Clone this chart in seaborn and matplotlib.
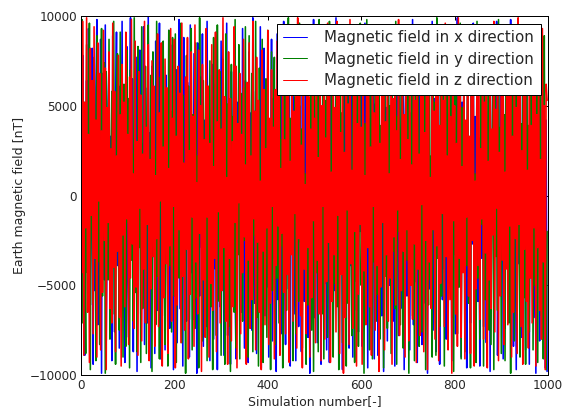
import matplotlib
matplotlib.use("Agg")
import matplotlib.pyplot as plt
from matplotlib.lines import Line2D
import numpy as np
import pandas as pd
import seaborn as sns

# Simulation sample spacing (every 2nd simulation)
step = 2

bx = [
    -9600, 3100, 7800, -4200, -8900, 1500, 6400, -2800, 9300, 4700, -6100, -1300, 8200, -9400, 2600, -5300, 5900, 9800, -7200, 400,
    -3600, 8700, -9900, 6800, 1900, -4700, 9500, -8100, -2300, 5100, 7400, -6800, 3300, -9200, 8900, -500, -7600, 4300, 9100, -3900,
    2200, -8500, 6100, -1800, 9700, -5900, 700, -9300, 5600, 8300, -4400, -7900, 3700, 9900, -2600, 6500, -8700, 1200, -5400, 7700,
    -9800, 4900, -900, 8100, -6600, 2900, -3200, 9400, -8300, 6000, 1600, -7100, 10000, -4900, 3500, -9600, 7200, -2100, 5300, -8800,
    8600, -1500, -6400, 4100, 9600, -9100, 2400, -4600, 7500, -300, -8600, 6700, 3800, -5700, 9200, -7400, 1000, -3000, 8400, -9700,
    5000, -2400, 7000, -8200, 3200, 9800, -6300, -1100, 4500, -9500, 8800, -3700, 600, -7000, 6300, 2000, -9000, 9500, -4300, 1400,
    -6900, 7900, -5000, 3000, -9900, 8500, -800, -5600, 6600, -2900, 9000, -8400, 4200, 1300, -7300, 9700, -3400, 5700, -9200, 2300,
    -1600, 7300, -8000, 6200, -4100, 9100, -9700, 3600, 800, -6200, 8600, -2000, 5500, -8900, 1700, -4800, 9600, -7800, 4000, -300,
    -9400, 6900, -3300, 2700, 8900, -5500, -9100, 5200, -1200, 7600, -7000, 3900, -6500, 9300, 100, -8500, 6400, -4000, 2100, -9300,
    8000, -2700, 4600, -7500, 9900, -1900, -6000, 5800, -8800, 3400, 700, -4500, 9400, -9600, 6000, -2200, 8200, -6700, 1100, -5100,
    7100, -9000, 3100, -700, 8700, -8100, 5400, -3500, 1800, -9800, 9000, -5800, 2800, -1400, 6800, -7700, 4400, 9700, -3800, -8300,
    2500, 6600, -5200, 9500, -9500, 900, -2500, 7800, -6600, 4800, -9200, 8300, -400, -7300, 5000, 3200, -8700, 9200, -1700, -5900,
    6300, -3100, 8900, -7900, 1500, -9900, 7200, -4300, 2200, 9800, -6800, -1000, 5300, -8200, 4000, -2800, 8000, -9400, 600, -6100,
    9300, -4900, 3500, -8600, 7000, -200, -9300, 5900, -3600, 8500, -7100, 2000, -5300, 9900, -1500, 4700, -8000, 6200, -2600, 1200,
    -9700, 8100, -4400, 6700, -6900, 2600, 9500, -8500, 300, -3900, 7400, -9000, 4100, -1300, 8800, -6400, 3000, -7600, 9100, -2000,
    5600, -8400, 1000, -5500, 9600, -3200, 6500, -9600, 4300, -700, 7900, -7400, 2300, 8400, -9100, 5100, -4600, 1600, -8900, 7700,
    -2300, 3800, -6700, 9200, -9800, 6100, -1400, 4900, -8100, 8700, -5000, 500, -3400, 9400, -7000, 2900, -9500, 7300, -1100, 5800,
    -7800, 9000, -4200, 1900, -6300, 8200, -9700, 3300, 6900, -5600, -900, 7500, -8600, 4600, -2400, 9800, -7200, 2100, -4800, 8600,
    -9300, 400, 6000, -3700, 9300, -8300, 2700, -6000, 7100, -1800, 4200, -9900, 8500, -5200, 1300, -3100, 9700, -7500, 5400, -600,
    -8700, 6800, -2100, 3600, -9400, 9100, 800, -5800, 7600, -4100, 2400, -8000, 9500, -6600, 4500, -1600, 8300, -9200, 3900, -3300,
    7400, -7700, 1700, 9900, -5100, -2900, 6600, -9000, 5200, -800, 8000, -6400, 3100, -9600, 9200, -4500, 600, -7100, 6300, -2700,
    9600, -8800, 4400, -1200, 7200, -5900, 2000, -9500, 8700, -3500, 5700, -7300, 1100, 9000, -8200, 3700, -4700, 6700, -9800, 2800,
    -500, 8400, -6200, 4100, -3000, 9700, -8900, 1500, -5500, 7800, -2200, 6400, -9100, 3400, -7400, 9400, -1900, 5000, -6900, 800,
    9800, -4000, 2600, -8400, 7300, -1500, -9700, 6100, -3800, 8900, -5300, 1900, -7900, 9300, -600, 4300, -8600, 6900, -2500, 3600,
    -9400, 8600, -4600, 1000, 7000, -6800, 5500, -9900, 4000, -1700, 9100, -8100, 2500, -5400, 7900, -3100, 6200, -9600, 4200, -9800,
]

by = [
    2000, 9800, -7100, 5200, -2600, -8800, 8400, -4300, 1100, 9600, -9700, 6300, -500, -6000, 7700, 3400, -9200, 8900, -3700, 4800,
    -8300, 1600, 9300, -5600, -1900, 7400, -9900, 6900, 2700, -4700, 8700, -8000, 300, 5800, -6600, 9700, -3100, -9400, 4600, 7900,
    -2400, -7500, 9100, -4900, 3000, -9000, 6200, 1300, -8400, 8100, -1500, 5400, -9600, 7000, -3600, 2300, -7000, 9900, -5400, 600,
    -8700, 8300, -2900, 4200, -9300, 9400, -6300, 1800, -4100, 7200, -8800, 3900, 9500, -5200, -1000, 6700, -9800, 8000, -3400, 2500,
    -7200, 9700, -4500, 600, -9100, 6600, 3700, -6700, 8600, -2100, -8300, 5000, 1400, -9500, 9200, -3900, 4700, -7600, 8800, -600,
    -5600, 9000, -9300, 2800, 7100, -4600, -1400, 9600, -8200, 5600, -3000, 1100, -9900, 7800, -2300, 6100, -6900, 3300, 9300, -8600,
    4500, -400, -7400, 8500, -5700, 2200, -9600, 9900, -1800, 3600, -8100, 6400, -4400, 900, 8200, -9200, 5300, -2700, 7500, -6200,
    1700, -9700, 8800, -3500, 4100, -7800, 9500, -600, -5900, 6900, -8900, 2600, 7600, -4200, -9400, 9000, -2000, 5100, -7300, 3200,
    -9800, 7300, -1100, 4400, -6500, 9800, -8500, 1900, -3300, 8400, -9100, 5700, 800, -7000, 6000, -2500, 9400, -5800, 2900, -9000,
    8900, -4800, 200, 6800, -8700, 3800, -2200, 9700, -6800, 4900, -9500, 7100, -1600, -5100, 8700, -9300, 3500, -600, 6500, -7900,
    9200, -3800, 1500, -9700, 8000, -5300, 2100, 7700, -8300, 400, -4600, 9500, -7100, 5900, -2800, 3100, -9600, 8500, -1300, 6300,
    -6400, 2400, 9900, -8900, 4300, -3200, 7000, -9200, 1000, 5500, -7700, 8300, -500, -5900, 9600, -2600, 3700, -8500, 6800, -4000,
    1200, -9400, 9100, -6100, 2700, -1700, 8600, -7500, 4700, -9800, 5800, 300, -4300, 7400, -8700, 9800, -3000, 2000, -6600, 8100,
    -9100, 5300, -1200, 6600, -7900, 3500, 9700, -5500, -2400, 8800, -9000, 1400, -4900, 7800, -6200, 2800, -9700, 9300, -800, 4600,
    -8200, 7600, -3300, 1600, -9500, 8500, -6000, 3100, 9000, -2100, -7800, 5900, -400, -9300, 7200, -4800, 6600, -8400, 2100, 9600,
    -5000, -1100, 8100, -9900, 4000, -6500, 9800, -2900, 5600, -8600, 1300, 7300, -9100, 3300, -3700, 8700, -7000, 600, -5500, 9100,
    -8000, 3900, -900, 6200, -9600, 7900, -4500, 2300, -7400, 9400, -1500, 5000, -8800, 8200, -3100, 1800, -6300, 9700, -9400, 4400,
    -2000, 7000, -7200, 3700, 8900, -8500, 500, -5300, 9200, -3600, 6400, -9900, 2600, -1400, 8300, -6700, 4800, -9200, 7100, -600,
    -4100, 9500, -8400, 1500, 6000, -7600, 3600, -2300, 9000, -9700, 5400, -900, -6100, 8600, -4700, 2200, -9000, 7700, -1900, 5200,
    -8900, 9900, -3500, 700, -7300, 6900, -5600, 2900, 8700, -9500, 4100, -2500, 7400, -8200, 1100, -4400, 9300, -6800, 3400, -9800,
    6500, -1000, 8400, -7700, 2500, -5100, 9600, -9100, 4900, -300, 6700, -8700, 3000, -3900, 9100, -6000, 1700, -9600, 8000, -2200,
    5700, -7000, 1200, -9300, 9700, -4600, 3200, -8000, 7200, -1600, 5100, -9500, 8500, -5800, 900, -2700, 9400, -7500, 4300, -8300,
    2100, 6100, -9700, 8200, -3400, 600, -6400, 9800, -5200, 3800, -8800, 7500, -1200, 4500, -9200, 9000, -2600, 6300, -7100, 1400,
    -9900, 8600, -4200, 5500, -8100, 2400, 7800, -6600, -1800, 9500, -9000, 4000, -3800, 7000, -5700, 1600, -9400, 9200, -700, 3900,
    -7600, 6800, -2400, 9300, -8600, 4700, -5000, 1900, 8800, -9300, 5600, -1300, 7600, -6700, 2600, -9100, 8900, -3200, -9700, -2000,
]

bz = [
    7500, -4300, 9700, -8900, 5200, -1800, 9900, -6500, 3400, -9300, 8200, -1100, 6400, -7700, 9400, -3500, 4200, -9000, 8500, -300,
    6800, -8600, 3600, -5400, 9200, -2500, 7100, -9700, 4900, -1500, 8000, -6300, 2600, -7100, 9600, -4000, 5800, -8700, 2200, -3100,
    7800, -6800, 4500, -9500, 7300, -2200, 5200, -6200, 9100, -1300, 3400, -8300, 6600, -4600, 9800, -2700, 1200, -7400, 8600, -5100,
    3000, -8900, 6900, -700, 5600, -8100, 2300, -4100, 9700, -7100, 3800, -1600, 8400, -9200, 2000, -5200, 7500, -3400, 6100, -8400,
    1100, -2400, 9000, -7300, 4600, -300, 8500, -9500, 2700, -5700, 7600, -3800, 6000, -8800, 1500, -2800, 9300, -7000, 4300, -600,
    8700, -9600, 3300, -6100, 7200, -1900, 5700, -8200, 9600, -4500, 1800, -7500, 6600, -3000, 8800, -9100, 2500, -5500, 8000, -1200,
    4400, -8400, 9500, -3700, 700, -6600, 8100, -2100, 5000, -9800, 7300, -4700, 3100, -7900, 9300, -1200, 6100, -9000, 2900, -4900,
    8400, -6400, 1600, -3500, 9100, -8700, 4100, -900, 7000, -7100, 3700, -5300, 9900, -2900, 5500, -7000, 1000, -9400, 8000, -3500,
    5400, -8100, 3000, -6200, 9400, -1500, 7200, -9600, 4000, -400, 6800, -7700, 3400, -4300, 8700, -2300, 1700, -9400, 6300, -3600,
    8500, -7400, 2200, -5800, 9700, -1300, 4700, -8600, 7700, -2600, 5300, -6500, 800, -9700, 8100, -3100, 5900, -7200, 2600, -1800,
    9200, -8300, 4300, -6000, 7000, -600, 3800, -9100, 5900, -3900, 8600, -1700, 7100, -8900, 1500, -2100, 9000, -5400, 3100, -7700,
    6500, -4400, 9400, -9300, 1900, -3300, 8300, -7000, 4700, -1000, 5600, -8500, 9900, -2400, 6200, -6700, 2800, -9600, 7800, -4100,
    600, -7700, 8800, -2900, 5500, -9000, 3700, -5700, 9200, -1400, 4300, -8200, 7100, -3600, 2100, -6600, 8500, -9200, 5000, -600,
    7600, -8000, 3200, -4800, 9600, -2600, 6000, -9300, 1300, -5900, 8000, -3300, 4900, -7600, 9700, -1100, 6700, -8800, 3500, -4400,
    8200, -9900, 2400, -6800, 7400, -800, 5100, -8300, 9800, -3800, 1400, -7400, 6300, -2000, 8900, -9500, 4000, -5500, 7300, -1600,
    3800, -9400, 8400, -4200, 1100, -7200, 9500, -2900, 5700, -6200, 2700, -8900, 8800, -600, 4600, -7500, 6700, -3900, 9100, -9800,
    2900, -5100, 7700, -1500, 6400, -8600, 4100, -3300, 9400, -7000, 1200, -4600, 8300, -9400, 5400, -2300, 7000, -6100, 3600, -800,
    9800, -7800, 2000, -5300, 8700, -3100, 4500, -9000, 6800, -1900, 3100, -8100, 9500, -5000, 1700, -6900, 8000, -2700, 5300, -9300,
    7400, -4100, 2300, -7800, 9300, -500, 5800, -8700, 3500, -2500, 8200, -9700, 6100, -3700, 1000, -6300, 9100, -1900, 4700, -8000,
    6900, -2800, 8900, -9200, 3900, -4900, 7500, -1000, 5300, -7300, 9600, -3400, 2200, -8600, 7600, -5800, 4400, -9900, 8300, -1400,
    5000, -6600, 2900, -8400, 9900, -3500, 6500, -7900, 1600, -4300, 8600, -9100, 4200, -1200, 7700, -5600, 3300, -8800, 9400, -2500,
    6000, -9500, 800, -5200, 8100, -3900, 7200, -6900, 2600, -1300, 9200, -8000, 5200, -3200, 7900, -9600, 1900, -4700, 8800, -6300,
    3700, -2200, 9700, -7600, 4800, -700, 6900, -9200, 2400, -5600, 8500, -3600, 6300, -8300, 1300, -4100, 9500, -7200, 5900, -1700,
    8000, -9000, 3300, -6500, 7600, -2400, 4900, -8800, 9900, -1600, 5800, -7300, 2500, -9400, 8400, -3000, 6100, -5900, 1400, -8500,
    9000, -4600, 3900, -7100, 6500, -1800, 8200, -9500, 4500, -2900, 7300, -6400, 2000, -8000, 9300, -3700, 5000, -9700, 6200, 5300,
]

labels = ["Magnetic field in x direction",
          "Magnetic field in y direction",
          "Magnetic field in z direction"]
colors = ["#0000ff", "#008000", "#ff0000"]

sns.set_style("white")
plt.rcParams["font.family"] = ["DejaVu Sans"]

fig = plt.figure(figsize=(566 / 72, 412 / 72), dpi=72)
ax = fig.add_axes([81 / 566, 37 / 412, 467 / 566, 359 / 412])

for vals, col in zip([bx, by, bz], colors):
    df = pd.DataFrame({"sim": np.arange(len(vals)) * step, "B": vals})
    sns.lineplot(data=df, x="sim", y="B", ax=ax, color=col, linewidth=1.6,
                 estimator=None, sort=False, legend=False)

ax.set_xlim(0, 1000)
ax.set_ylim(-10000, 10000)
ax.set_xticks([0, 200, 400, 600, 800, 1000])
ax.set_yticks([-10000, -5000, 0, 5000, 10000])
ax.set_xlabel("Simulation number[-]", fontsize=12.5, labelpad=3)
ax.set_ylabel("Earth magnetic field [nT]", fontsize=12.5, labelpad=3)
ax.tick_params(axis="both", which="major", direction="in", length=4, width=1,
               top=True, right=True, labelsize=12, pad=4, color="black")
for s in ax.spines.values():
    s.set_color("black")
    s.set_linewidth(1.0)

handles = [Line2D([], [], color=c, linewidth=1.0) for c in colors]
leg = ax.legend(handles, labels, loc="upper right", fontsize=15, frameon=True,
                fancybox=False, framealpha=1, edgecolor="black", borderpad=0.45,
                handlelength=1.6, handletextpad=1.1, labelspacing=0.42,
                borderaxespad=0.5)
leg.get_frame().set_linewidth(1.0)

fig.savefig("out.png", dpi=72, facecolor="white")
